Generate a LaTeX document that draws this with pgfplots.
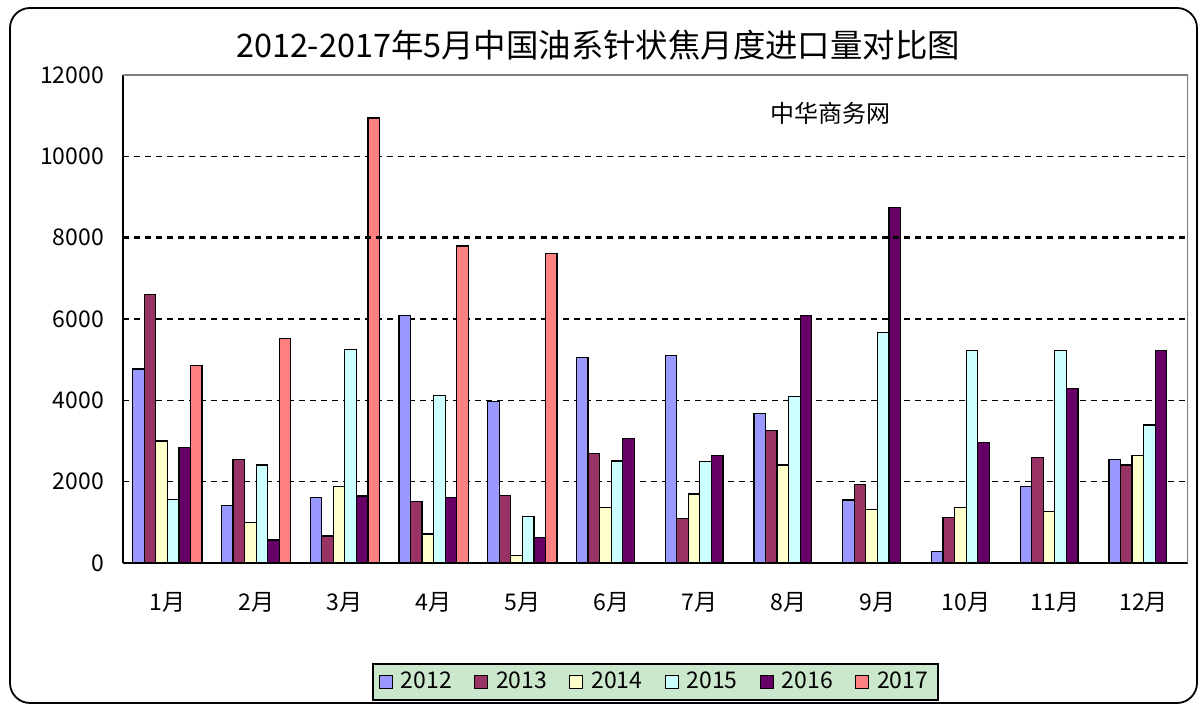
\documentclass[border=0pt]{standalone}
\usepackage{fontspec}
\setmainfont{Noto Sans CJK SC}
\usepackage{pgfplots}
\pgfplotsset{compat=1.18}

\definecolor{c12}{HTML}{9999FF}
\definecolor{c13}{HTML}{993366}
\definecolor{c14}{HTML}{FFFFCC}
\definecolor{c15}{HTML}{CCFFFF}
\definecolor{c16}{HTML}{660066}
\definecolor{c17}{HTML}{FF8080}
\definecolor{legfill}{RGB}{204,232,204}

\begin{document}
\begin{tikzpicture}
\useasboundingbox (0,0) rectangle (600pt,353pt);
\draw[line width=0.9pt, rounded corners=10pt] (5pt,1.5pt) rectangle (598.5pt,349pt);
\node[font=\fontsize{16.2}{18}\selectfont] at (299pt,330.5pt) {2012-2017年5月中国油系针状焦月度进口量对比图};

\begin{axis}[
  at={(61.5pt,71.5pt)}, anchor=south west,
  scale only axis, width=532.5pt, height=244pt,
  ybar=0pt, bar width=0.13,
  legend image code/.code={\draw[#1,draw=black,line width=0.6pt] (0pt,-3.2pt) rectangle (6.5pt,3.2pt);},
  xmin=-0.5, xmax=11.5, ymin=0, ymax=12000,
  axis x line*=bottom, axis y line*=left,
  axis line style={black, line width=0.8pt},
  xtick={0,...,11},
  xticklabels={1月,2月,3月,4月,5月,6月,7月,8月,9月,10月,11月,12月},
  major x tick style={draw=none},
  extra x ticks={0.5,1.5,...,10.5},
  extra x tick labels={},
  extra x tick style={major tick length=4pt, tick style={draw=black, line width=0.6pt}, grid=none},
  ytick={0,2000,...,12000},
  major y tick style={draw=none},
  ymajorgrids,
  grid style={black, line width=0.6pt, dash pattern=on 3pt off 2.5pt},
  tick label style={font=\fontsize{11.5}{13}\selectfont},
  /pgf/number format/1000 sep={},
  /pgf/number format/assume math mode=true,
  scaled y ticks=false,
  yticklabel style={xshift=-6pt},
  xticklabel style={yshift=-7pt},
  legend style={at={(0.5,-0.244)}, anchor=center, legend columns=6,
    fill=legfill, draw=black, line width=0.8pt,
    font=\fontsize{11.5}{13}\selectfont,
    /tikz/every odd column/.append style={column sep=2pt},
    /tikz/every even column/.append style={column sep=9pt}},
]
\addplot[fill=c12, draw=black, line width=0.6pt] coordinates {(0,4770) (1,1418) (2,1606) (3,6090) (4,3967) (5,5057) (6,5098) (7,3680) (8,1549) (9,287) (10,1876) (11,2541)};
\addplot[fill=c13, draw=black, line width=0.6pt] coordinates {(0,6607) (1,2550) (2,664) (3,1508) (4,1656) (5,2697) (6,1085) (7,3254) (8,1926) (9,1123) (10,2590) (11,2410)};
\addplot[fill=c14, draw=black, line width=0.6pt] coordinates {(0,3000) (1,991) (2,1876) (3,713) (4,189) (5,1370) (6,1697) (7,2410) (8,1320) (9,1360) (10,1262) (11,2639)};
\addplot[fill=c15, draw=black, line width=0.6pt] coordinates {(0,1557) (1,2410) (2,5245) (3,4114) (4,1139) (5,2508) (6,2491) (7,4098) (8,5663) (9,5225) (10,5221) (11,3393)};
\addplot[fill=c16, draw=black, line width=0.6pt] coordinates {(0,2835) (1,566) (2,1647) (3,1615) (4,623) (5,3066) (6,2639) (7,6081) (8,8746) (9,2967) (10,4286) (11,5221)};
\addplot[fill=c17, draw=black, line width=0.6pt] coordinates {(0,4852) (1,5525) (2,10942) (3,7795) (4,7606)};
\legend{2012,2013,2014,2015,2016,2017}
\draw[black, line width=1.4pt, dash pattern=on 3pt off 2.5pt] (axis cs:-0.5,8000) -- (axis cs:11.5,8000);
\draw[gray, line width=0.8pt] (rel axis cs:0,1) -- (rel axis cs:1,1) -- (rel axis cs:1,0);
\node[font=\fontsize{12}{14}\selectfont] at (axis cs:7.47,11050) {中华商务网};
\end{axis}
\end{tikzpicture}
\end{document}
